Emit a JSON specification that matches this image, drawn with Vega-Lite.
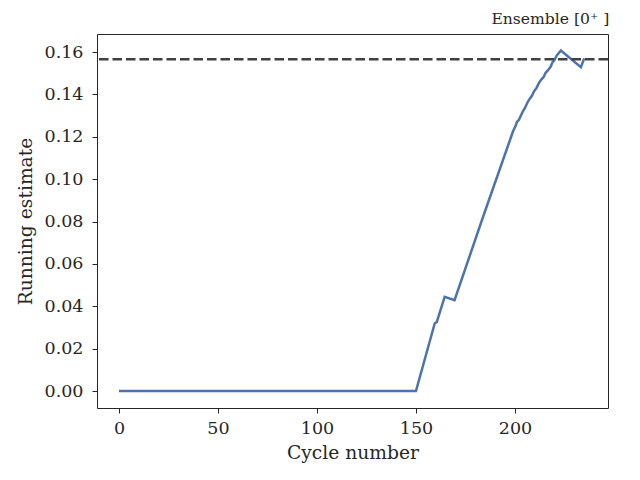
{
  "$schema": "https://vega.github.io/schema/vega-lite/v6.json",
  "width": 511,
  "height": 374,
  "autosize": "none",
  "padding": {"left": 97, "top": 34, "right": 32, "bottom": 72},
  "background": "white",
  "config": {
    "font": "DejaVu Serif",
    "view": {"stroke": "#262626", "strokeWidth": 1},
    "axis": {
      "grid": false,
      "domain": false,
      "tickColor": "#262626",
      "tickSize": 5,
      "tickWidth": 1,
      "labelColor": "#262626",
      "labelFont": "DejaVu Serif",
      "labelFontSize": 17.5,
      "titleColor": "#262626",
      "titleFont": "DejaVu Serif",
      "titleFontSize": 18.7,
      "titleFontWeight": "normal"
    }
  },
  "title": {
    "text": "Ensemble [0⁺ ]",
    "anchor": "end",
    "font": "DejaVu Serif",
    "fontSize": 15.6,
    "fontWeight": "normal",
    "color": "#262626",
    "offset": 6
  },
  "layer": [
    {
      "data": {
        "values": [
          {"cycle": 0, "estimate": 0},
          {"cycle": 150, "estimate": 0},
          {"cycle": 159.5, "estimate": 0.032},
          {"cycle": 160.5, "estimate": 0.0325},
          {"cycle": 164.5, "estimate": 0.0445},
          {"cycle": 169.5, "estimate": 0.0429},
          {"cycle": 184, "estimate": 0.0825},
          {"cycle": 199, "estimate": 0.1225},
          {"cycle": 200.5, "estimate": 0.1255},
          {"cycle": 201, "estimate": 0.127},
          {"cycle": 202, "estimate": 0.128},
          {"cycle": 203.5, "estimate": 0.131},
          {"cycle": 204, "estimate": 0.132},
          {"cycle": 205, "estimate": 0.1335},
          {"cycle": 206.5, "estimate": 0.1365},
          {"cycle": 207.5, "estimate": 0.138},
          {"cycle": 208.5, "estimate": 0.1392},
          {"cycle": 209.5, "estimate": 0.1412},
          {"cycle": 211, "estimate": 0.1432},
          {"cycle": 212, "estimate": 0.1452},
          {"cycle": 213.5, "estimate": 0.1472},
          {"cycle": 214.5, "estimate": 0.1482},
          {"cycle": 215.5, "estimate": 0.1502},
          {"cycle": 216.5, "estimate": 0.1512},
          {"cycle": 218, "estimate": 0.153},
          {"cycle": 219, "estimate": 0.1552},
          {"cycle": 220, "estimate": 0.1562},
          {"cycle": 221, "estimate": 0.1582},
          {"cycle": 223.2, "estimate": 0.1607},
          {"cycle": 233.3, "estimate": 0.1528},
          {"cycle": 235, "estimate": 0.157}
        ]
      },
      "mark": {"type": "line", "color": "#4c72b0", "strokeWidth": 2.5, "clip": true},
      "encoding": {
        "x": {
          "field": "cycle",
          "type": "quantitative",
          "title": "Cycle number",
          "scale": {"domain": [-11.1, 247], "nice": false, "zero": false},
          "axis": {"values": [0, 50, 100, 150, 200], "labelPadding": 6, "titlePadding": 7}
        },
        "y": {
          "field": "estimate",
          "type": "quantitative",
          "title": "Running estimate",
          "scale": {"domain": [-0.008, 0.1685], "nice": false, "zero": false},
          "axis": {"values": [0, 0.02, 0.04, 0.06, 0.08, 0.1, 0.12, 0.14, 0.16], "format": ".2f", "labelPadding": 9, "titlePadding": 9}
        }
      }
    },
    {
      "data": {"values": [{"reference": 0.1566}]},
      "mark": {"type": "rule", "color": "#404040", "strokeWidth": 2.5, "strokeDash": [9.5, 4]},
      "encoding": {"y": {"field": "reference", "type": "quantitative"}}
    }
  ]
}
